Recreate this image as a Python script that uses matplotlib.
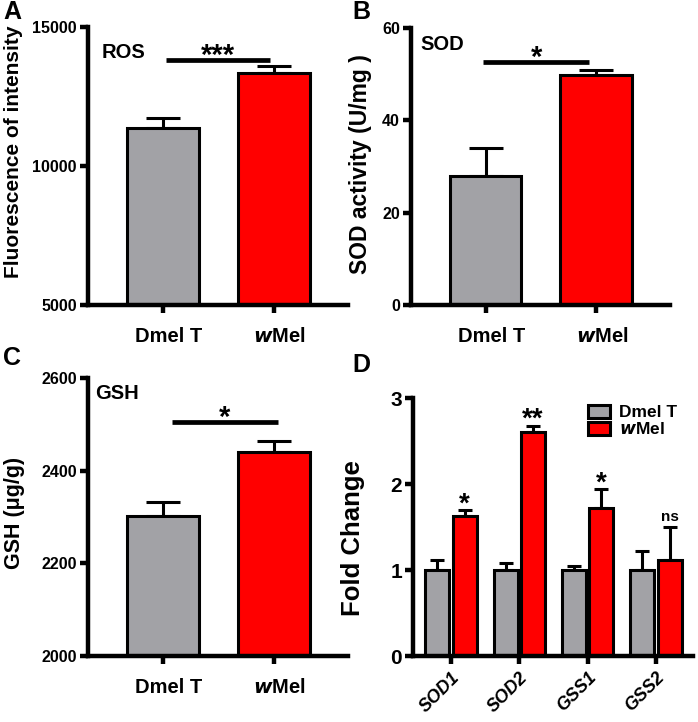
import numpy as np
import matplotlib.pyplot as plt
from matplotlib.transforms import ScaledTranslation

plt.rcParams['font.family'] = ['Liberation Sans', 'DejaVu Sans']
plt.rcParams['font.weight'] = 'bold'

groups = ["Dmel T", "$\\bf{\\it{w}}$Mel"]
gray = "#a2a2a6"
red = "#ff0000"

# A - ROS
ros_mean = [11350, 13350]
ros_err = [380, 250]
# B - SOD
sod_mean = [28.0, 49.8]
sod_err = [6.0, 1.2]
# C - GSH
gsh_mean = [2302, 2440]
gsh_err = [30, 24]
# D - qPCR fold change
genes = ["SOD1", "SOD2", "GSS1", "GSS2"]
fc_dmel = [1.0, 1.0, 1.0, 1.0]
fc_dmel_err = [0.12, 0.08, 0.05, 0.22]
fc_wmel = [1.63, 2.60, 1.72, 1.12]
fc_wmel_err = [0.07, 0.08, 0.22, 0.38]
fc_sig = ["*", "**", "*", "ns"]

W, H = 698, 722
fig = plt.figure(figsize=(W / 100, H / 100), dpi=100)
LW = 3.2


def px_rect(left, top, right, bottom):
    return [left / W, 1 - bottom / H, (right - left) / W, (bottom - top) / H]


def style_axes(ax):
    for s in ["top", "right"]:
        ax.spines[s].set_visible(False)
    for s in ["left", "bottom"]:
        ax.spines[s].set_linewidth(LW)
    ax.tick_params(width=LW, length=6)
    ax.tick_params(axis="y", labelsize=11.5, pad=2)


def letter(x, y, s):
    fig.text(x / W, 1 - y / H, s, fontsize=18, fontweight="bold", va="center")


def two_bar_panel(rect, means, errs, ylim, yticks, ylabel, lab_size, lab_pos, title,
                  title_pos, sig, sig_y, sig_x):
    ax = fig.add_axes(rect)
    x = np.arange(2)
    ax.bar(x, np.array(means) - ylim[0], bottom=ylim[0], width=0.65,
           color=[gray, red], edgecolor="black", linewidth=2.2, zorder=2)
    ax.errorbar(x, means, yerr=[[0, 0], errs], fmt="none", ecolor="black",
                elinewidth=2.2, capthick=2.2, capsize=12, zorder=1)
    ax.set_xlim(-0.675, 1.67)
    ax.set_ylim(*ylim)
    ax.set_yticks(yticks)
    ax.set_xticks(x)
    style_axes(ax)
    ax.set_xticklabels(groups, fontsize=14.5, fontweight="bold")
    ax.tick_params(axis="x", pad=10)
    shift = ScaledTranslation(6 / 100, 0, fig.dpi_scale_trans)
    for lab in ax.get_xticklabels():
        lab.set_transform(lab.get_transform() + shift)
    for lab in ax.get_yticklabels():
        lab.set_fontweight("bold")
    ax.set_ylabel(ylabel, fontsize=lab_size, fontweight="bold")
    ax.yaxis.set_label_coords(*lab_pos)
    ax.text(title_pos[0], title_pos[1], title, transform=ax.transAxes, fontsize=14.5,
            fontweight="bold", va="center")
    ax.plot(sig_x, [sig_y, sig_y], color="black", lw=3.4, clip_on=False,
            solid_capstyle="butt")
    ax.annotate(sig, xy=(np.mean(sig_x), sig_y), xytext=(0, -2.5),
                textcoords="offset points", ha="center", va="baseline",
                fontsize=21, fontweight="bold")
    return ax


two_bar_panel(px_rect(88, 27, 348, 305), ros_mean, ros_err, (5000, 15000),
              [5000, 10000, 15000], "Fluorescence of intensity", 15, (-0.25, 0.55),
              "ROS", (0.054, 0.91), "***", 13810, [0.027, 0.97])
two_bar_panel(px_rect(411, 28, 670, 305), sod_mean, sod_err, (0, 60),
              [0, 20, 40, 60], "SOD activity (U/mg )", 16.5, (-0.15, 0.51),
              "SOD", (0.035, 0.942), "*", 52.6, [-0.02, 0.937])
two_bar_panel(px_rect(88, 378, 348, 656), gsh_mean, gsh_err, (2000, 2600),
              [2000, 2200, 2400, 2600], "GSH (μg/g)", 15.5, (-0.242, 0.514),
              "GSH", (0.027, 0.946), "*", 2505, [0.08, 1.04])

# D
ax = fig.add_axes(px_rect(413, 398, 693, 656))
x = np.arange(len(genes))
w = 0.35
ax.bar(x - 0.2, fc_dmel, width=w, color=gray, edgecolor="black", linewidth=2.2,
       zorder=2, label="Dmel T")
ax.bar(x + 0.2, fc_wmel, width=w, color=red, edgecolor="black", linewidth=2.2,
       zorder=2, label="$\\bf{\\it{w}}$Mel")
ax.errorbar(x - 0.2, fc_dmel, yerr=[np.zeros(4), fc_dmel_err], fmt="none",
            ecolor="black", elinewidth=2.2, capthick=2.2, capsize=4.7, zorder=1)
ax.errorbar(x + 0.2, fc_wmel, yerr=[np.zeros(4), fc_wmel_err], fmt="none",
            ecolor="black", elinewidth=2.2, capthick=2.2, capsize=4.7, zorder=1)
for xi, m, e, s in zip(x, fc_wmel, fc_wmel_err, fc_sig):
    if s == "ns":
        ax.annotate(s, xy=(xi + 0.2, m + e), xytext=(0, 4), textcoords="offset points",
                    ha="center", va="baseline", fontsize=11, fontweight="bold")
    else:
        ax.annotate(s, xy=(xi + 0.2, m + e), xytext=(0, -1), textcoords="offset points",
                    ha="center", va="baseline", fontsize=20, fontweight="bold")
ax.set_xlim(-0.555, 3.54)
ax.set_ylim(0, 3)
ax.set_yticks([0, 1, 2, 3])
ax.set_xticks(x)
style_axes(ax)
ax.set_xticklabels(genes, rotation=45, ha="right", rotation_mode="anchor",
                   fontsize=13, fontweight="bold", fontstyle="italic")
ax.tick_params(axis="y", labelsize=15)
for lab in ax.get_yticklabels():
    lab.set_fontweight("bold")
ax.set_ylabel("Fold Change", fontsize=18.5, fontweight="bold")
ax.yaxis.set_label_coords(-0.171, 0.457)
ax.legend(loc="upper left", bbox_to_anchor=(0.58, 1.02), frameon=False,
          handlelength=1.3, handleheight=0.75, labelspacing=0.05, handletextpad=0.5,
          borderpad=0.2, prop={"weight": "bold", "size": 12.5})

letter(3, 12, "A")
letter(352, 12, "B")
letter(3, 358, "C")
letter(352, 365, "D")

fig.savefig("out.png", dpi=100)
